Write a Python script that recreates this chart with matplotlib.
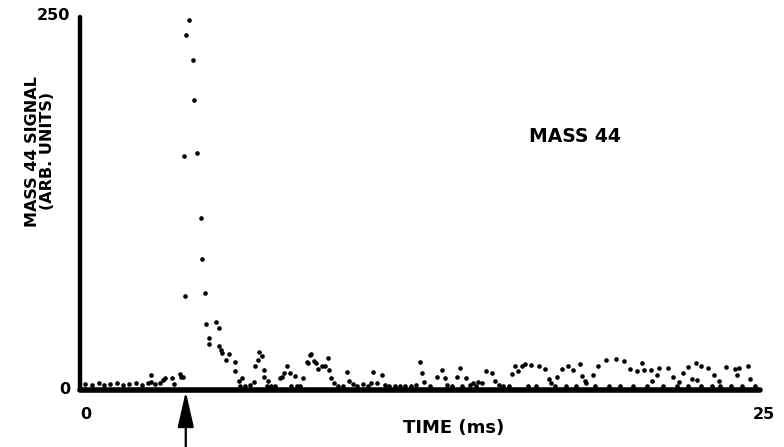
import matplotlib
matplotlib.use("Agg")
import matplotlib.pyplot as plt
from matplotlib.transforms import ScaledTranslation

# ---- data (time in ms, signal in arbitrary units) ----
peak_time = [4.03, 3.91, 4.16, 4.20, 3.82, 4.33, 4.45, 4.51, 3.86, 4.61]
peak_signal = [248.4, 238.5, 221.7, 194.7, 156.3, 158.4, 114.6, 87.1, 62.0, 63.8]

decay_time = [4.66, 5.00, 5.11, 4.77, 4.77, 5.14, 5.20, 5.25, 5.38, 5.51, 5.70, 5.70,
              5.86, 5.96, 5.90, 6.27, 6.42, 6.47, 6.58, 6.61, 6.71, 6.78, 6.78, 6.93,
              7.05, 7.37, 7.44, 7.62, 7.52, 7.74, 7.93, 7.78, 8.01, 8.23, 8.38, 8.48]
decay_signal = [42.9, 44.7, 40.6, 33.9, 29.4, 28.5, 25.6, 23.8, 18.9, 22.7, 17.7, 11.0,
                4.7, 6.3, 1.3, 1.8, 4.2, 14.4, 18.9, 24.5, 21.6, 12.1, 7.6, 4.9,
                1.3, 6.5, 7.6, 14.8, 9.9, 9.9, 8.1, 1.3, 1.3, 6.5, 17.3, 22.2]

mid_time = [8.51, 8.40, 8.64, 8.69, 8.79, 8.91, 9.16, 9.03, 9.18, 9.26, 9.38, 9.86,
            9.93, 10.08, 10.42, 10.72, 10.82, 10.96, 11.12, 11.25, 11.60, 11.98, 12.39,
            12.54, 12.60, 12.70, 13.15, 13.34, 13.46, 13.52, 13.89, 14.01, 14.23, 14.36,
            14.50, 14.69, 14.81, 14.96, 15.18, 15.30, 15.46, 15.92, 16.04, 16.16, 16.29,
            16.41, 16.63, 16.94]
mid_signal = [22.7, 17.0, 18.4, 17.0, 12.8, 14.8, 20.0, 14.4, 12.1, 6.5, 3.2, 10.6,
              4.9, 2.7, 2.7, 3.2, 10.6, 3.2, 8.8, 2.0, 0.9, 0.9, 2.0,
              17.3, 10.3, 4.2, 7.6, 11.7, 6.5, 2.0, 7.6, 13.7, 6.9, 2.0,
              3.2, 4.2, 3.2, 11.0, 9.9, 4.7, 2.0, 9.2, 15.0, 11.0, 14.4,
              16.2, 15.5, 14.4]

late_time = [17.15, 17.30, 17.60, 17.76, 18.00, 18.19, 18.44, 18.50, 18.62, 18.93,
             19.11, 19.38, 19.76, 20.06, 20.26, 20.53, 20.73, 20.81, 21.05, 21.10,
             21.29, 21.36, 21.69, 21.85, 22.09, 22.22, 22.41, 22.56, 22.70, 22.74,
             22.90, 23.17, 23.39, 23.54, 23.81, 24.15, 24.21, 24.31, 24.61, 24.71]
late_signal = [12.6, 6.1, 7.2, 12.6, 14.4, 12.1, 16.2, 8.1, 4.9, 8.8,
               14.8, 18.9, 19.3, 18.2, 12.6, 11.0, 17.0, 12.1, 11.7, 4.7,
               8.8, 13.7, 13.7, 7.2, 4.2, 9.9, 13.9, 5.9, 16.6, 5.4,
               15.0, 13.3, 8.8, 4.7, 13.9, 12.6, 8.3, 13.7, 14.8, 6.1]

pre_time = [0.20, 0.45, 0.70, 0.90, 1.10, 1.35, 1.60, 1.80, 2.05, 2.30, 2.50, 2.60,
            2.62, 2.75, 2.95, 3.07, 3.13, 3.40, 3.45, 3.69, 3.72, 3.81]
pre_signal = [2.5, 2.0, 3.0, 2.0, 2.5, 3.0, 2.0, 2.5, 3.0, 2.0, 3.0, 8.8,
              4.0, 2.5, 3.0, 5.4, 6.5, 6.5, 2.5, 9.4, 7.5, 7.0]

base_time = [6.10, 6.90, 7.20, 8.10, 9.50, 9.70, 10.20, 10.60, 11.40, 11.80, 12.20,
             12.90, 13.70, 14.10, 14.60, 15.60, 15.80, 16.50, 16.80, 17.35, 17.50,
             17.90, 18.30, 18.65, 19.00, 19.50, 19.90, 20.40, 20.90, 21.50, 22.00,
             22.40, 22.90, 23.30, 23.60, 24.00, 24.40, 24.90]
base_signal = [1.0, 1.5, 1.0, 1.0, 1.5, 1.0, 1.0, 1.5, 1.0, 1.0, 1.5,
               1.0, 1.0, 1.5, 1.0, 1.0, 1.5, 1.0, 1.0, 3.0, 1.0,
               1.0, 1.5, 3.0, 1.0, 1.0, 1.5, 1.0, 1.0, 1.0, 1.5,
               1.0, 1.0, 1.5, 1.0, 1.0, 1.5, 1.0]

trigger_time = 3.9
x_ticks = [0, 25]
y_ticks = [0, 250]

# ---- figure ----
fig = plt.figure(figsize=(7.84, 4.47), dpi=100)
ax = fig.add_axes([80 / 784, 1 - 390 / 447, 680 / 784, 373 / 447])

for t, s in [(peak_time, peak_signal), (decay_time, decay_signal),
             (mid_time, mid_signal), (late_time, late_signal),
             (pre_time, pre_signal), (base_time, base_signal)]:
    ax.scatter(t, s, s=11, color="black", linewidths=0, zorder=3, clip_on=False)

ax.set_xlim(0, 25.07)
ax.set_ylim(-1.5, 250.5)

for side in ["top", "right"]:
    ax.spines[side].set_visible(False)
ax.spines["left"].set_linewidth(3.2)
ax.spines["bottom"].set_linewidth(4.0)
ax.spines["left"].set_capstyle("round")
ax.spines["bottom"].set_capstyle("round")

bold = dict(fontweight="bold", family="DejaVu Sans")
ax.set_xticks(x_ticks)
ax.set_xticklabels([str(v) for v in x_ticks], fontsize=11.5, **bold)
ax.set_yticks(y_ticks)
ax.set_yticklabels([str(v) for v in y_ticks], fontsize=11.5, **bold)
ax.tick_params(axis="both", length=0)
ax.tick_params(axis="x", pad=12)
ax.tick_params(axis="y", pad=7)
shift = ScaledTranslation(0.06, 0.0, fig.dpi_scale_trans)
for lbl in ax.get_xticklabels():
    lbl.set_transform(lbl.get_transform() + shift)
up = ScaledTranslation(0.0, 0.04, fig.dpi_scale_trans)
ax.get_yticklabels()[1].set_transform(ax.get_yticklabels()[1].get_transform() + up)

ax.set_xlabel("TIME (ms)", fontsize=13, **bold)
ax.xaxis.set_label_coords(0.55, -0.077)
ax.set_ylabel("MASS 44 SIGNAL\n(ARB. UNITS)", fontsize=11.5, linespacing=0.95, **bold)
ax.yaxis.set_label_coords(-0.037, 0.64)

ax.text(0.66, 0.665, "MASS 44", transform=ax.transAxes, fontsize=13.5, **bold)

ax.annotate("", xy=(trigger_time, -2.5), xytext=(trigger_time, -42),
            xycoords="data", textcoords="data", annotation_clip=False,
            arrowprops=dict(arrowstyle="-|>,head_length=1.1,head_width=0.25",
                            mutation_scale=20, lw=1.6, color="black",
                            shrinkA=0, shrinkB=0))

fig.savefig("out.png", dpi=100)
